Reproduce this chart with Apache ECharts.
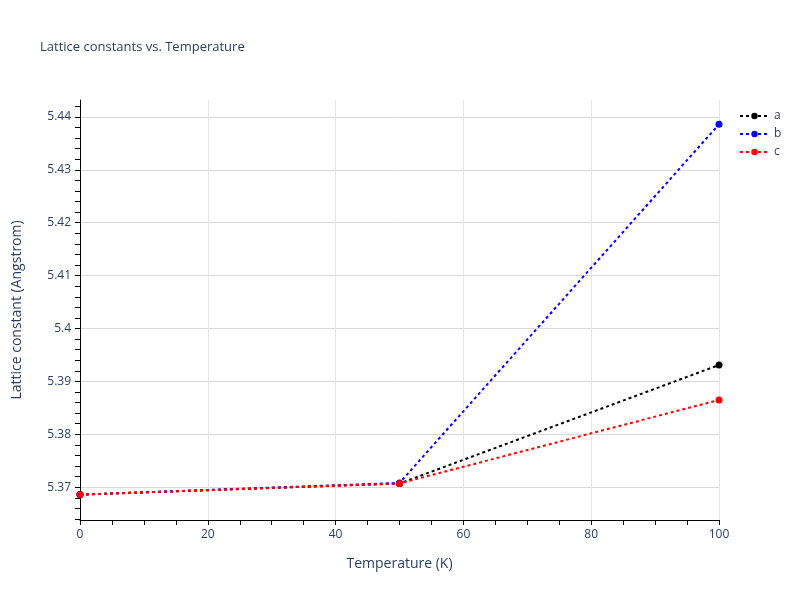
<!DOCTYPE html>
<html>
<head>
<meta charset="utf-8">
<script src="https://cdn.jsdelivr.net/npm/echarts@6/dist/echarts.min.js"></script>
<style>
  html, body { margin: 0; padding: 0; background: #fff; }
  #main { width: 800px; height: 600px; }
</style>
</head>
<body>
<div id="main"></div>
<script>
  // data
  var temps = [0, 50, 100];
  var aVals = [5.3686, 5.3707, 5.3931];
  var bVals = [5.3686, 5.3708, 5.4386];
  var cVals = [5.3686, 5.3707, 5.3865];
  var yMajor = [5.37, 5.38, 5.39, 5.4, 5.41, 5.42, 5.43, 5.44];
  var yMinor = [5.364, 5.366, 5.368, 5.37, 5.372, 5.374, 5.376, 5.378, 5.38, 5.382,
                5.384, 5.386, 5.388, 5.39, 5.392, 5.394, 5.396, 5.398, 5.4, 5.402,
                5.404, 5.406, 5.408, 5.41, 5.412, 5.414, 5.416, 5.418, 5.42, 5.422,
                5.424, 5.426, 5.428, 5.43, 5.432, 5.434, 5.436, 5.438, 5.44, 5.442];

  var txt = '#2a3f5f';
  var font = '"Open Sans", sans-serif';

  function pairs(xs, ys) {
    return xs.map(function (x, i) { return [x, ys[i]]; });
  }

  function mkSeries(name, vals, color) {
    return {
      name: name,
      type: 'line',
      data: pairs(temps, vals),
      symbol: 'circle',
      symbolSize: 7,
      itemStyle: { color: color },
      lineStyle: { color: color, width: 2, type: [3, 3] },
      emphasis: { disabled: true }
    };
  }

  var chart = echarts.init(document.getElementById('main'));
  chart.setOption({
    animation: false,
    title: {
      text: 'Lattice constants vs. Temperature',
      left: 35, top: 36,
      textStyle: { fontFamily: font, fontSize: 13, fontWeight: 'normal', color: txt }
    },
    legend: {
      orient: 'vertical',
      left: 734, top: 105,
      itemWidth: 29, itemHeight: 8, itemGap: 6,
      textStyle: { fontFamily: font, fontSize: 12, color: txt },
      data: ['a', 'b', 'c']
    },
    grid: { left: 80, right: 81, top: 100, bottom: 80, outerBoundsMode: 'none' },
    xAxis: {
      type: 'value',
      min: 0, max: 100, interval: 20,
      name: 'Temperature (K)',
      nameLocation: 'middle', nameGap: 37,
      nameTextStyle: { fontFamily: font, fontSize: 14, color: txt },
      axisLine: { show: true, onZero: false, lineStyle: { color: '#000', width: 1 } },
      axisTick: { show: true, length: 5, lineStyle: { color: '#000' } },
      minorTick: { show: true, splitNumber: 4, length: 5, lineStyle: { color: '#000', width: 1 } },
      axisLabel: { fontFamily: font, fontSize: 12, color: txt, margin: 9 },
      splitLine: { show: true, lineStyle: { color: '#e5e5e5', width: 1 } }
    },
    yAxis: [{
      type: 'value',
      min: 5.3638, max: 5.4432,
      name: 'Lattice constant (Angstrom)',
      nameLocation: 'middle', nameGap: 56,
      nameTextStyle: { fontFamily: font, fontSize: 14, color: txt },
      axisLine: { show: true, onZero: false, lineStyle: { color: '#000', width: 1 } },
      axisTick: { show: false, customValues: yMajor },
      axisLabel: { fontFamily: font, fontSize: 12, color: txt, margin: 9, customValues: yMajor },
      splitLine: { show: true, lineStyle: { color: '#d9d9d9', width: 1 } }
    }, {
      type: 'value',
      position: 'left',
      min: 5.3638, max: 5.4432,
      axisLine: { show: false },
      axisTick: { show: true, length: 5, lineStyle: { color: '#000' }, customValues: yMinor },
      axisLabel: { show: false },
      splitLine: { show: false }
    }],
    series: [
      mkSeries('a', aVals, '#000000'),
      mkSeries('b', bVals, '#0000ff'),
      mkSeries('c', cVals, '#ff0000')
    ]
  });
</script>
</body>
</html>
